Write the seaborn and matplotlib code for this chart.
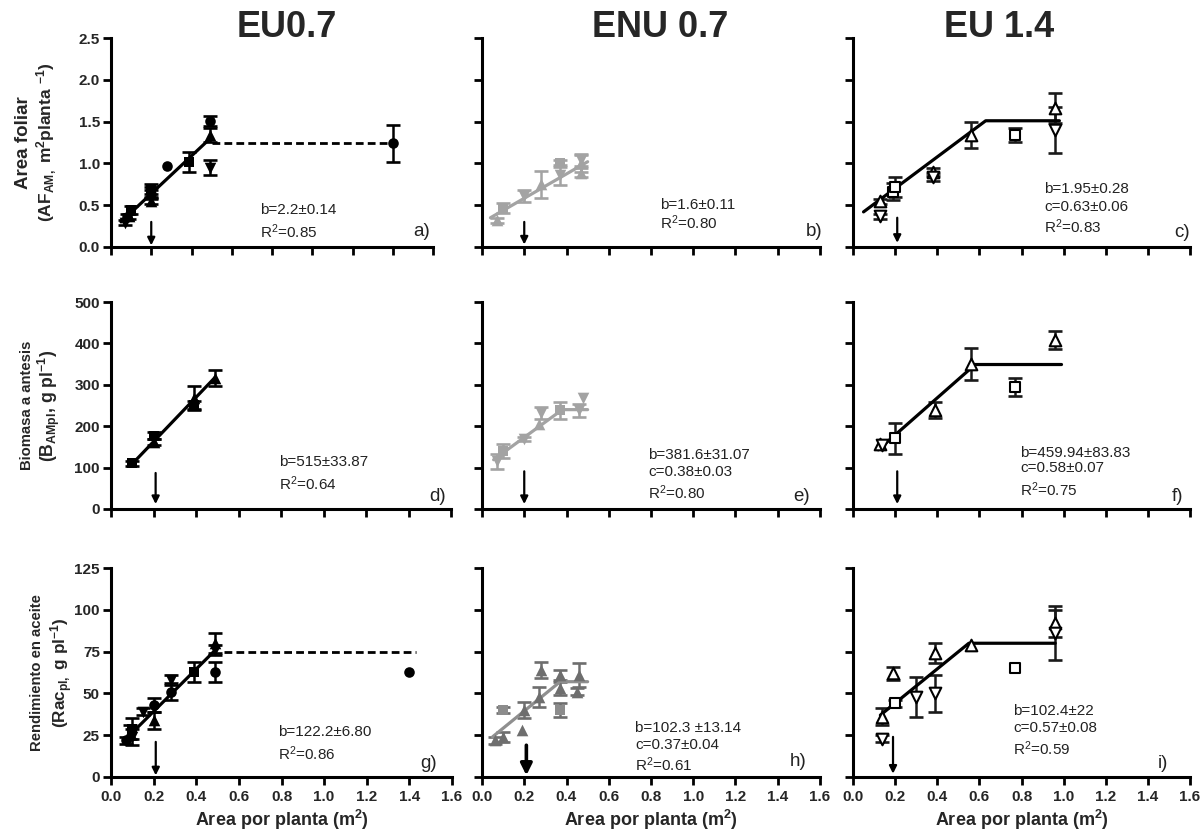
import matplotlib
matplotlib.use("Agg")
import matplotlib.pyplot as plt
import pandas as pd
import seaborn as sns

# ---------------------------------------------------------------- data
titles = ["EU0.7", "ENU 0.7", "EU 1.4"]
x_ticks = [0.0, 0.2, 0.4, 0.6, 0.8, 1.0, 1.2, 1.4, 1.6]
row_y_ticks = [[0.0, 0.5, 1.0, 1.5, 2.0, 2.5],
               [0, 100, 200, 300, 400, 500],
               [0, 25, 50, 75, 100, 125]]

# a) leaf area, EU0.7
a_x = [0.08, 0.20, 0.28, 0.49, 1.40, 0.10, 0.20, 0.39, 0.09, 0.20, 0.49, 0.07, 0.20, 0.49]
a_y = [0.36, 0.63, 0.97, 1.51, 1.24, 0.44, 0.69, 1.02, 0.37, 0.55, 1.34, 0.29, 0.66, 0.95]
a_err = [0.04, 0.05, 0.0, 0.06, 0.22, 0.05, 0.06, 0.12, 0.03, 0.04, 0.08, 0.03, 0.06, 0.09]
a_mark = ["o", "o", "o", "o", "o", "s", "s", "s", "^", "^", "^", "v", "v", "v"]
a_fit_x = [0.05, 0.48]
a_fit_y = [0.30, 1.27]
a_dash_x = [0.50, 1.40]
a_dash_y = [1.24, 1.24]
a_arrow = [0.20, 0.30, 0.02]
a_stats = ["b=2.2±0.14", "R$^{2}$=0.85"]

# b) leaf area, ENU 0.7
b_x = [0.10, 0.37, 0.07, 0.28, 0.47, 0.47, 0.20, 0.37, 0.47]
b_y = [0.47, 1.00, 0.32, 0.75, 0.89, 1.00, 0.61, 0.86, 1.04]
b_err = [0.06, 0.04, 0.03, 0.16, 0.05, 0.10, 0.07, 0.12, 0.07]
b_mark = ["s", "s", "^", "^", "^", "^", "v", "v", "v"]
b_fit_x = [0.04, 0.50]
b_fit_y = [0.35, 1.02]
b_arrow = [0.20, 0.30, 0.03]
b_stats = ["b=1.6±0.11", "R$^{2}$=0.80"]

# c) leaf area, EU 1.4
c_x = [0.19, 0.20, 0.77, 0.13, 0.38, 0.56, 0.96, 0.13, 0.38, 0.96]
c_y = [0.66, 0.72, 1.34, 0.55, 0.90, 1.34, 1.66, 0.37, 0.84, 1.40]
c_err = [0.10, 0.12, 0.08, 0.03, 0.05, 0.15, 0.18, 0.03, 0.05, 0.28]
c_mark = ["s", "s", "s", "^", "^", "^", "^", "v", "v", "v"]
c_fit_x = [0.05, 0.63, 0.98]
c_fit_y = [0.42, 1.51, 1.51]
c_arrow = [0.21, 0.35, 0.05]
c_stats = ["b=1.95±0.28", "c=0.63±0.06", "R$^{2}$=0.83"]

# d) biomass at anthesis, EU0.7
d_x = [0.10, 0.20, 0.39, 0.20, 0.39, 0.49]
d_y = [111, 177, 252, 162, 268, 316]
d_err = [6, 8, 10, 8, 28, 20]
d_mark = ["s", "s", "s", "^", "^", "^"]
d_fit_x = [0.10, 0.49]
d_fit_y = [109, 318]
d_arrow = [0.21, 87, 12]
d_stats = ["b=515±33.87", "R$^{2}$=0.64"]

# e) biomass at anthesis, ENU 0.7
e_x = [0.10, 0.37, 0.07, 0.20, 0.28, 0.46, 0.48, 0.27]
e_y = [140, 238, 115, 170, 232, 238, 268, 205]
e_err = [18, 20, 18, 5, 15, 15, 0, 0]
e_mark = ["s", "s", "v", "v", "v", "v", "v", "^"]
e_fit_x = [0.055, 0.38, 0.50]
e_fit_y = [119, 240, 240]
e_arrow = [0.20, 91, 12]
e_stats = ["b=381.6±31.07", "c=0.38±0.03", "R$^{2}$=0.80"]

# f) biomass at anthesis, EU 1.4
f_x = [0.20, 0.77, 0.13, 0.39, 0.56, 0.96, 0.14]
f_y = [171, 294, 156, 239, 350, 408, 155]
f_err = [37, 22, 0, 20, 38, 22, 0]
f_mark = ["s", "s", "^", "^", "^", "^", "v"]
f_fit_x = [0.12, 0.58, 0.99]
f_fit_y = [143, 349, 349]
f_arrow = [0.21, 91, 12]
f_stats = ["b=459.94±83.83", "c=0.58±0.07", "R$^{2}$=0.75"]

# g) oil yield, EU0.7
g_x = [0.07, 0.20, 0.28, 0.49, 1.40, 0.10, 0.39, 0.09, 0.20, 0.49, 0.10, 0.15, 0.28, 0.49]
g_y = [22, 43, 51, 63, 62.6, 29, 63, 27, 34, 80, 24, 39, 58, 76]
g_err = [2, 4, 5, 6, 0, 6, 6, 4, 5, 6, 5, 2, 3, 3]
g_mark = ["o", "o", "o", "o", "o", "s", "s", "^", "^", "^", "v", "v", "v", "v"]
g_fit_x = [0.08, 0.49]
g_fit_y = [24, 76]
g_dash_x = [0.53, 1.43]
g_dash_y = [75, 75]
g_arrow = [0.21, 21, 1]
g_stats = ["b=122.2±6.80", "R$^{2}$=0.86"]

# h) oil yield, ENU 0.7
h_x = [0.10, 0.37, 0.06, 0.10, 0.19, 0.20, 0.27, 0.28, 0.37, 0.37, 0.45, 0.46]
h_y = [40, 40, 22, 24, 28, 40, 48, 64, 61, 53, 51, 61]
h_err = [2, 4, 2, 3, 0, 5, 6, 5, 3, 4, 2, 7]
h_mark = ["s", "s", "^", "^", "^", "^", "^", "^", "^", "^", "^", "^"]
h_fit_x = [0.05, 0.37, 0.50]
h_fit_y = [24, 57, 57]
h_arrow = [0.21, 19, 1]
h_stats = ["b=102.3 ±13.14", "c=0.37±0.04", "R$^{2}$=0.61"]

# i) oil yield, EU 1.4
i_x = [0.20, 0.77, 0.14, 0.19, 0.39, 0.56, 0.96, 0.14, 0.30, 0.39, 0.96]
i_y = [44, 65, 36, 62, 74, 79, 92, 23, 48, 50, 86]
i_err = [2, 0, 5, 4, 6, 0, 8, 2, 12, 11, 16]
i_mark = ["s", "s", "^", "^", "^", "^", "^", "v", "v", "v", "v"]
i_fit_x = [0.13, 0.55, 0.96]
i_fit_y = [37, 80, 80]
i_arrow = [0.19, 24, 2]
i_stats = ["b=102.4±22", "c=0.57±0.08", "R$^{2}$=0.59"]

# ---------------------------------------------------------------- style
sns.set_style("ticks")
plt.rcParams["font.family"] = ["Liberation Sans", "DejaVu Sans"]
plt.rcParams["mathtext.fontset"] = "custom"
plt.rcParams["mathtext.default"] = "regular"

W, H = 1202, 835
fig = plt.figure(figsize=(W / 100, H / 100), dpi=100)


def add_axes(left, top, right, bottom):
    return fig.add_axes([left / W, 1 - bottom / H, (right - left) / W, (bottom - top) / H])


BLACK = dict(face="black", edge="black", err="black", line="black", lw=0)
LIGHT = dict(face="#a3a3a3", edge="#a3a3a3", err="#a3a3a3", line="#a3a3a3", lw=0)
OPEN = dict(face="white", edge="black", err="#1a1a1a", line="black", lw=1.5)
MARKER_SIZE = {"o": 58, "s": 52, "^": 70, "v": 70}

panels = [
    dict(letter="a)", box=(111, 38, 433, 247), x=a_x, y=a_y, err=a_err, mark=a_mark,
         fit=(a_fit_x, a_fit_y), dash=(a_dash_x, a_dash_y), arrow=a_arrow, stats=a_stats,
         style=BLACK, spos=(0.463, [0.177, 0.073]), lpos=(0.99, 0.073)),
    dict(letter="b)", box=(482, 38, 820, 247), x=b_x, y=b_y, err=b_err, mark=b_mark,
         fit=(b_fit_x, b_fit_y), dash=None, arrow=b_arrow, stats=b_stats,
         style=LIGHT, spos=(0.527, [0.20, 0.115]), lpos=(1.008, 0.073)),
    dict(letter="c)", box=(853, 38, 1190, 247), x=c_x, y=c_y, err=c_err, mark=c_mark,
         fit=(c_fit_x, c_fit_y), dash=None, arrow=c_arrow, stats=c_stats,
         style=OPEN, spos=(0.567, [0.278, 0.191, 0.096]), lpos=(1.0, 0.067)),
    dict(letter="d)", box=(111, 302, 451, 509), x=d_x, y=d_y, err=d_err, mark=d_mark,
         fit=(d_fit_x, d_fit_y), dash=None, arrow=d_arrow, stats=d_stats,
         style=BLACK, spos=(0.493, [0.228, 0.124]), lpos=(0.985, 0.06)),
    dict(letter="e)", box=(482, 302, 820, 509), x=e_x, y=e_y, err=e_err, mark=e_mark,
         fit=(e_fit_x, e_fit_y), dash=None, arrow=e_arrow, stats=e_stats,
         style=LIGHT, spos=(0.492, [0.261, 0.177, 0.081]), lpos=(0.97, 0.06)),
    dict(letter="f)", box=(853, 302, 1190, 509), x=f_x, y=f_y, err=f_err, mark=f_mark,
         fit=(f_fit_x, f_fit_y), dash=None, arrow=f_arrow, stats=f_stats,
         style=OPEN, spos=(0.496, [0.272, 0.196, 0.095]), lpos=(0.98, 0.06)),
    dict(letter="g)", box=(111, 568, 452, 777), x=g_x, y=g_y, err=g_err, mark=g_mark,
         fit=(g_fit_x, g_fit_y), dash=(g_dash_x, g_dash_y), arrow=g_arrow, stats=g_stats,
         style=BLACK, spos=(0.49, [0.217, 0.113]), lpos=(0.955, 0.066)),
    dict(letter="h)", box=(482, 568, 820, 777), x=h_x, y=h_y, err=h_err, mark=h_mark,
         fit=(h_fit_x, h_fit_y), dash=None, arrow=h_arrow, stats=h_stats,
         style=dict(face={"s": "#8c8c8c", "^": "#6e6e6e"}, edge=None, err="#6e6e6e",
                    line="#8f8f8f", lw=0),
         spos=(0.453, [0.233, 0.153, 0.057]), lpos=(0.96, 0.073), big_arrow=True),
    dict(letter="i)", box=(853, 568, 1190, 777), x=i_x, y=i_y, err=i_err, mark=i_mark,
         fit=(i_fit_x, i_fit_y), dash=None, arrow=i_arrow, stats=i_stats,
         style=OPEN, spos=(0.476, [0.315, 0.235, 0.134]), lpos=(0.935, 0.066)),
]

for k, p in enumerate(panels):
    row, col = divmod(k, 3)
    ax = add_axes(*p["box"])
    st = p["style"]
    df = pd.DataFrame({"x": p["x"], "y": p["y"], "err": p["err"], "m": p["mark"]})

    # error bars
    eb = df[df["err"] > 0]
    ax.errorbar(eb["x"], eb["y"], yerr=eb["err"], fmt="none", ecolor=st["err"],
                elinewidth=1.8, capsize=5.0, capthick=1.9, zorder=2)

    # fitted model
    sns.lineplot(x=p["fit"][0], y=p["fit"][1], ax=ax, color=st["line"], lw=2.3,
                 zorder=2.5, sort=False)
    if p["dash"] is not None:
        sns.lineplot(x=p["dash"][0], y=p["dash"][1], ax=ax, color="black", lw=2.0,
                     zorder=2.5)
        ax.lines[-1].set_linestyle((0, (2.8, 1.5)))

    # observations
    for m, sub in df.groupby("m", sort=False):
        face = st["face"][m] if isinstance(st["face"], dict) else st["face"]
        edge = st["edge"] if st["edge"] is not None else face
        sns.scatterplot(data=sub, x="x", y="y", ax=ax, marker=m, s=MARKER_SIZE[m],
                        color=edge, facecolor=face, edgecolor=edge,
                        linewidth=st["lw"], zorder=3, legend=False)

    # arrow marking the reference plant area
    ax_x, tail, tip = p["arrow"]
    big = p.get("big_arrow", False)
    ax.annotate("", xy=(ax_x, tip), xytext=(ax_x, tail),
                arrowprops=dict(arrowstyle="-|>", color="black",
                                lw=2.6 if big else 1.6,
                                mutation_scale=17 if big else 11,
                                shrinkA=0, shrinkB=0), zorder=4)

    # statistics and panel letter
    sx, sys_ = p["spos"]
    for txt, yy in zip(p["stats"], sys_):
        ax.text(sx, yy, txt, transform=ax.transAxes, fontsize=11, color="#222222",
                ha="left", va="center")
    ax.text(p["lpos"][0], p["lpos"][1], p["letter"], transform=ax.transAxes,
            fontsize=13.5, color="#222222", ha="right", va="center")

    # axes
    ax.set_xlim(0, 1.6)
    yt = row_y_ticks[row]
    ax.set_ylim(yt[0], yt[-1])
    ax.set_xticks(x_ticks)
    ax.set_yticks(yt)
    ax.set_xlabel("")
    ax.set_ylabel("")
    sns.despine(ax=ax)
    for s in ("left", "bottom"):
        ax.spines[s].set_linewidth(2.2)
        ax.spines[s].set_color("black")
    ax.tick_params(axis="both", direction="out", length=5.5, width=2.0, color="black",
                   labelsize=11, pad=2.5)
    ax.tick_params(axis="x", pad=4)
    if row == 2:
        ax.set_xticklabels([f"{t:.1f}" for t in x_ticks], fontweight="bold")
        ax.set_xlabel("Area por planta (m$^{2}$)", fontsize=13, fontweight="bold",
                      labelpad=3)
    else:
        ax.set_xticklabels([])
    if col == 0:
        fmt = "{:.1f}" if row == 0 else "{:d}"
        ax.set_yticklabels([fmt.format(t) for t in yt], fontweight="bold")
    else:
        ax.set_yticklabels([])

# column titles
for t, cx in zip(titles, [287, 660, 999]):
    fig.text(cx / W, 1 - 37 / H, t, fontsize=26, fontweight="bold",
             ha="center", va="baseline")

# row labels (two lines each)
row_labels = [
    ("Area foliar", 13.5, 24, r"(AF$_{AM,}$ m$^{2}$planta $^{-1}$)", 12.5, 47, 142.5),
    ("Biomasa a antesis", 10.7, 27, r"(B$_{AMpl}$, g pl$^{-1}$)", 12.7, 49, 405.5),
    ("Rendimiento en aceite", 10.7, 37, r"(Rac$_{pl,}$ g pl$^{-1}$)", 12.3, 62, 673.0),
]
for l1, s1, x1, l2, s2, x2, yc in row_labels:
    fig.text(x1 / W, 1 - yc / H, l1, rotation=90, fontsize=s1, fontweight="bold",
             ha="center", va="center")
    fig.text(x2 / W, 1 - yc / H, l2, rotation=90, fontsize=s2, fontweight="bold",
             ha="center", va="center")

fig.savefig("out.png", dpi=100, facecolor="white")
